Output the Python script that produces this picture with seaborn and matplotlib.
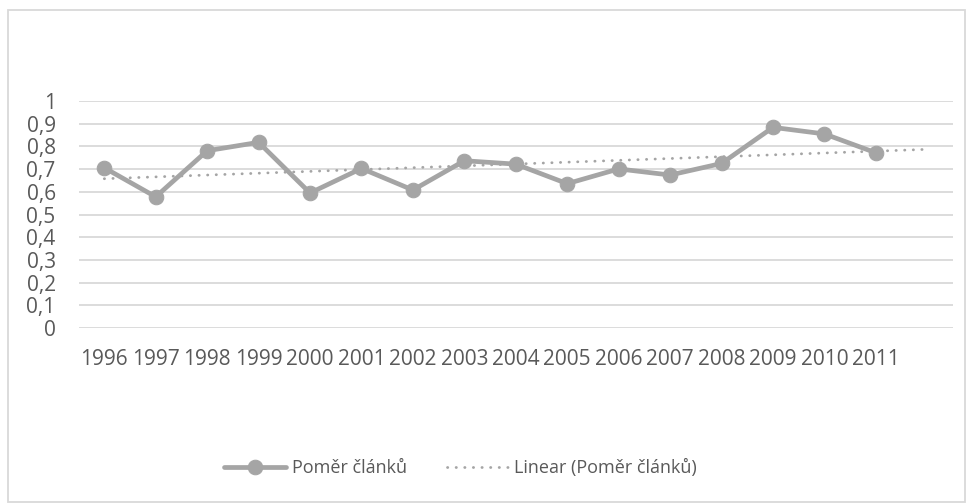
import numpy as np
import pandas as pd
import matplotlib
matplotlib.use('Agg')
import matplotlib.pyplot as plt
from matplotlib.patches import Rectangle
import seaborn as sns

# data
years = ['1996', '1997', '1998', '1999', '2000', '2001', '2002', '2003',
         '2004', '2005', '2006', '2007', '2008', '2009', '2010', '2011']
ratio = [0.706, 0.578, 0.781, 0.818, 0.595, 0.703, 0.608, 0.737,
         0.722, 0.636, 0.701, 0.674, 0.725, 0.884, 0.855, 0.772]
series_label = 'Poměr článků'
trend_label = 'Linear (Poměr článků)'
forecast_periods = 1

sns.set_theme(style='white')
plt.rcParams['font.family'] = ['Open Sans', 'DejaVu Sans']
plt.rcParams['text.color'] = '#595959'
plt.rcParams['xtick.color'] = '#595959'
plt.rcParams['ytick.color'] = '#595959'

GREY = '#a5a5a5'
GRID = '#d9d9d9'

df = pd.DataFrame({'idx': np.arange(len(years)), 'year': years, 'ratio': ratio})

fig = plt.figure(figsize=(9.7, 5.04), dpi=100)
ax = fig.add_axes([0.081, 0.349, 0.9015, 0.4506])

# linear trend (Excel-style, extended one period forward)
coef = np.polyfit(df['idx'], df['ratio'], 1)
tx = np.array([0, len(years) - 1 + forecast_periods])
ax.plot(tx, np.polyval(coef, tx), color=GREY, lw=2.0, dashes=(0.1, 3.0),
        dash_capstyle='round', solid_capstyle='round', zorder=2, label=trend_label)

sns.lineplot(data=df, x='idx', y='ratio', ax=ax, color=GREY, lw=3.4,
             marker='o', markersize=10.5, markeredgecolor=GREY, markerfacecolor=GREY,
             zorder=3, label=series_label)

ax.set_xlim(-0.5, len(years) - 0.5 + forecast_periods)
ax.set_ylim(0, 1)
yt = np.arange(0, 1.01, 0.1)
ax.set_yticks(yt)
ax.set_yticklabels(['0' if v == 0 else ('1' if v == 1 else f'{v:.1f}'.replace('.', ','))
                    for v in yt], fontsize=15)
ax.set_xticks(df['idx'])
ax.set_xticklabels(years, fontsize=15)
ax.tick_params(axis='both', length=0)
ax.tick_params(axis='y', pad=16.5)
ax.tick_params(axis='x', pad=15)
ax.set_xlabel('')
ax.set_ylabel('')
ax.grid(axis='y', color=GRID, lw=1.3)
ax.set_axisbelow(True)
for s in ax.spines.values():
    s.set_visible(False)

h, l = ax.get_legend_handles_labels()
order = [l.index(series_label), l.index(trend_label)]
ax.legend([h[i] for i in order], [l[i] for i in order], loc='center',
          bbox_to_anchor=(0.475, 0.071), bbox_transform=fig.transFigure,
          ncol=2, frameon=False, fontsize=13, handlelength=3.4,
          handletextpad=0.35, columnspacing=2.2, labelcolor='#595959')

# chart-area border
fig.patches.append(Rectangle((8 / 970, 2 / 504), 957 / 970, 492 / 504,
                             transform=fig.transFigure, fill=False,
                             edgecolor=GRID, lw=1.3))

fig.savefig('out.png', dpi=100, facecolor='white')
